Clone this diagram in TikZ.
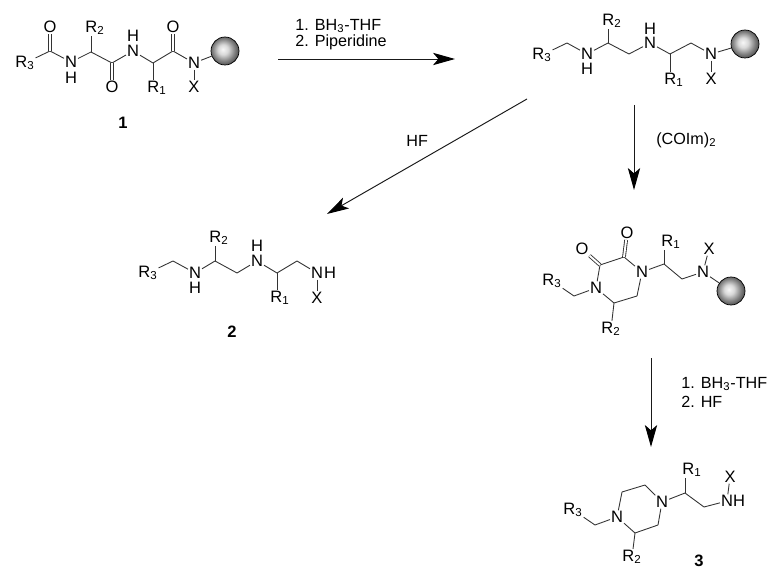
\documentclass[tikz,border=0pt]{standalone}
\usepackage{fontspec}
\setmainfont{Liberation Sans}
\usetikzlibrary{arrows.meta}
\pgfdeclareradialshading{beadball}{\pgfpoint{-4bp}{3bp}}{color(0bp)=(black!3); color(9bp)=(black!15); color(20bp)=(black!50); color(30bp)=(black!78); color(37bp)=(black!95); color(50bp)=(black)}
\tikzset{
  atom/.style={inner sep=0.4pt,font=\fontsize{9.4}{10}\selectfont},
  caption/.style={font=\fontsize{9.4}{10}\selectfont\bfseries},
  reagent/.style={anchor=west,inner sep=0pt,font=\fontsize{9.2}{10}\selectfont},
  bond/.style={line width=0.5pt,black!80},
  dbl/.style={bond,double,double distance=1.1pt},
  step arrow/.style={line width=0.55pt,black!90,-{Stealth[length=12.5pt,width=7pt,inset=3pt,black]}},
  bead/.style={circle,draw=black,line width=0.4pt,minimum size=0.56cm,inner sep=0pt,shading=beadball}
}
\begin{document}
\begin{tikzpicture}[x=0.02cm,y=-0.02cm]
    \useasboundingbox (0,0) rectangle (774,574);
    % compound 1
    \node[atom] (a3) at (25,63) {R\textsubscript{3}};
    \coordinate (ac1) at (50,51);
    \node[atom] (ao1) at (50,27) {O};
    \node[atom] (an1) at (71,62) {N};
    \node[atom] (ah1) at (71,78) {H};
    \coordinate (ac2) at (91,52);
    \node[atom] (a2) at (95,28) {R\textsubscript{2}};
    \coordinate (ac3) at (112,63);
    \node[atom] (ao2) at (112,87) {O};
    \node[atom] (an2) at (133,51) {N};
    \node[atom] (ah2) at (133,36) {H};
    \coordinate (ac4) at (153,63);
    \node[atom] (a1) at (157,88) {R\textsubscript{1}};
    \coordinate (ac5) at (173,51);
    \node[atom] (ao3) at (173,27) {O};
    \node[atom] (an3) at (194,63) {N};
    \node[atom] (ax) at (194,87) {X};
    \node[bead] (ab) at (225,51) {};
    \foreach \p/\q in {a3/ac1,ac1/an1,an1/ac2,ac2/ac3,ac3/an2,an2/ac4,ac4/ac5,ac5/an3,an3/ax,an3/ab}
        \draw[bond] (\p) -- (\q);
    \foreach \p/\q in {ac1/ao1,ac3/ao2,ac5/ao3}
        \draw[dbl] (\p) -- (\q);
    \draw[bond] (ac2) -- (ac2 |- a2.south);
    \draw[bond] (ac4) -- (ac4 |- a1.north);
    \node[caption] (l1) at (123,123) {1};
    % reduced resin compound
    \node[atom] (b3) at (542,55) {R\textsubscript{3}};
    \coordinate (bc1) at (567,43);
    \node[atom] (bn1) at (587,54) {N};
    \node[atom] (bh1) at (587,69) {H};
    \coordinate (bc2) at (608,43);
    \node[atom] (b2) at (612,21) {R\textsubscript{2}};
    \coordinate (bc3) at (629,54);
    \node[atom] (bn2) at (650,43) {N};
    \node[atom] (bh2) at (650,29) {H};
    \coordinate (bc4) at (670,54);
    \node[atom] (b1) at (674,80) {R\textsubscript{1}};
    \coordinate (bc5) at (691,43);
    \node[atom] (bn3) at (711,54) {N};
    \node[atom] (bx) at (711,79) {X};
    \node[bead] (bb) at (745,44) {};
    \foreach \p/\q in {b3/bc1,bc1/bn1,bn1/bc2,bc2/bc3,bc3/bn2,bn2/bc4,bc4/bc5,bc5/bn3,bn3/bx,bn3/bb}
        \draw[bond] (\p) -- (\q);
    \draw[bond] (bc2) -- (bc2 |- b2.south);
    \draw[bond] (bc4) -- (bc4 |- b1.north);
    % compound 2
    \node[atom] (c3) at (148,273) {R\textsubscript{3}};
    \coordinate (cc1) at (173,261);
    \node[atom] (cn1) at (195,273) {N};
    \node[atom] (ch1) at (195,288) {H};
    \coordinate (cc2) at (215,261);
    \node[atom] (c2) at (219,238) {R\textsubscript{2}};
    \coordinate (cc3) at (237,273);
    \node[atom] (cn2) at (257,261) {N};
    \node[atom] (ch2) at (257,246) {H};
    \coordinate (cc4) at (277,273);
    \node[atom] (c1) at (280,298) {R\textsubscript{1}};
    \coordinate (cc5) at (297,261);
    \node[atom] (cn3) at (317,273) {N};
    \node[atom] (ch3) at (330,273) {H};
    \node[atom] (cx) at (317,298) {X};
    \foreach \p/\q in {c3/cc1,cc1/cn1,cn1/cc2,cc2/cc3,cc3/cn2,cn2/cc4,cc4/cc5,cc5/cn3,cn3/cx}
        \draw[bond] (\p) -- (\q);
    \draw[bond] (cc2) -- (cc2 |- c2.south);
    \draw[bond] (cc4) -- (cc4 |- c1.north);
    \node[caption] (l2) at (232,332) {2};
    % diketopiperazine on resin
    \node[atom] (d3) at (552,281) {R\textsubscript{3}};
    \coordinate (dc1) at (574,296);
    \node[atom] (dn1) at (596,288) {N};
    \coordinate (dc2) at (600,265);
    \node[atom] (do1) at (582,249) {O};
    \coordinate (dc3) at (624,257);
    \node[atom] (do2) at (627,233) {O};
    \node[atom] (dn2) at (642,272) {N};
    \coordinate (dc4) at (637,296);
    \coordinate (dc5) at (614,303);
    \node[atom] (d2) at (611,329) {R\textsubscript{2}};
    \coordinate (dc6) at (664,264);
    \node[atom] (d1) at (671,242) {R\textsubscript{1}};
    \coordinate (dc7) at (682,279);
    \node[atom] (dn3) at (703,272) {N};
    \node[atom] (dx) at (709,249) {X};
    \node[bead] (db) at (731,291) {};
    \foreach \p/\q in {d3/dc1,dc1/dn1,dn1/dc2,dc2/dc3,dc3/dn2,dn2/dc4,dc4/dc5,dc5/dn1,dc5/d2,dn2/dc6,dc6/dc7,dc7/dn3,dn3/dx,dn3/db}
        \draw[bond] (\p) -- (\q);
    \foreach \p/\q in {dc2/do1,dc3/do2}
        \draw[dbl] (\p) -- (\q);
    \draw[bond] (dc6) -- (dc6 |- d1.south);
    % compound 3
    \node[atom] (e3) at (573,510) {R\textsubscript{3}};
    \coordinate (ec1) at (595,525);
    \node[atom] (en1) at (617,517) {N};
    \coordinate (ec2) at (622,492);
    \coordinate (ec3) at (645,485);
    \node[atom] (en2) at (662,502) {N};
    \coordinate (ec4) at (658,525);
    \coordinate (ec5) at (635,533);
    \node[atom] (e2) at (632,557) {R\textsubscript{2}};
    \coordinate (ec6) at (685,493);
    \node[atom] (e1) at (692,470) {R\textsubscript{1}};
    \coordinate (ec7) at (704,507);
    \node[atom] (en3) at (727,501) {N};
    \node[atom] (eh3) at (739,501) {H};
    \node[atom] (ex) at (730,477) {X};
    \foreach \p/\q in {e3/ec1,ec1/en1,en1/ec2,ec2/ec3,ec3/en2,en2/ec4,ec4/ec5,ec5/en1,ec5/e2,en2/ec6,ec6/ec7,ec7/en3,en3/ex}
        \draw[bond] (\p) -- (\q);
    \draw[bond] (ec6) -- (ec6 |- e1.south);
    \node[caption] (l3) at (699,561) {3};
    % reaction arrows
    \coordinate (s1) at (278,59);
    \coordinate (t1) at (455,59);
    \coordinate (s2) at (527,99);
    \coordinate (t2) at (327,214);
    \coordinate (s3) at (634,105);
    \coordinate (t3) at (634,190);
    \coordinate (s4) at (651,358);
    \coordinate (t4) at (651,447);
    \draw[step arrow] (s1) -- (t1);
    \draw[step arrow] (s2) -- (t2);
    \draw[step arrow] (s3) -- (t3);
    \draw[step arrow] (s4) -- (t4);
    \node[reagent] (r1) at (295,26) {1. BH\textsubscript{3}-THF};
    \node[reagent] (r2) at (295,42) {2. Piperidine};
    \node[reagent] (r3) at (406,141) {HF};
    \node[reagent] (r4) at (656,140) {(COIm)\textsubscript{2}};
    \node[reagent] (r5) at (681,384) {1. BH\textsubscript{3}-THF};
    \node[reagent] (r6) at (681,402) {2. HF};
\end{tikzpicture}
\end{document}
